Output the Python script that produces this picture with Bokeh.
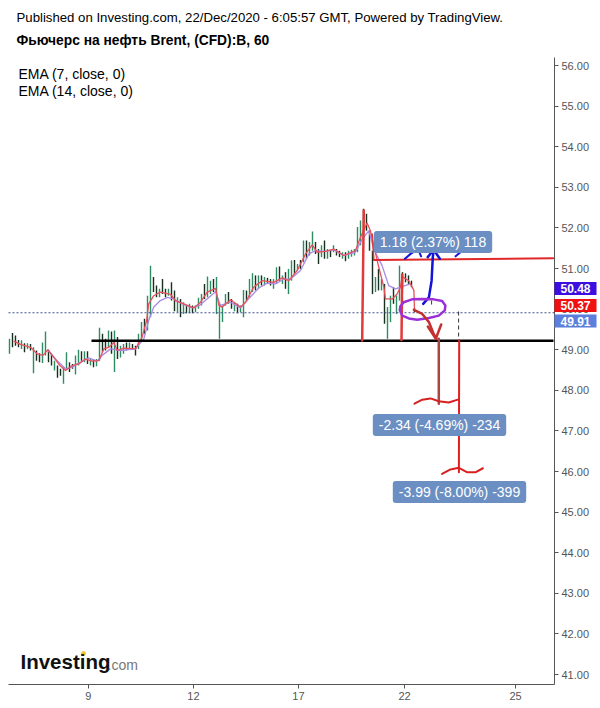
from bokeh.plotting import figure
from bokeh.models import Label, FixedTicker, Range1d
from bokeh.embed import file_html
from bokeh.resources import INLINE

# ---- data: hourly bars (bar number = position in list)
bar_high = [49.27,49.41,49.35,49.24,49.23,49.16,49.16,49.14,49.06,48.98,
            48.91,49.18,49.45,49.00,48.90,48.73,48.61,48.53,48.57,48.94,
            48.69,48.65,48.86,49.00,48.96,48.96,48.96,48.77,48.77,48.77,
            49.54,49.39,49.27,49.47,49.45,49.47,49.31,49.10,49.14,49.18,
            49.18,49.14,49.10,49.39,49.68,49.76,50.33,51.07,50.79,50.58,
            50.50,50.74,50.50,50.50,50.66,50.46,50.29,50.25,50.17,50.09,
            50.13,50.09,50.09,50.28,50.37,50.62,50.80,50.70,50.74,50.79,
            50.13,50.09,50.37,50.42,50.25,50.17,50.13,50.09,50.47,50.46,
            50.74,50.88,50.83,50.83,50.83,50.79,50.77,50.74,50.74,51.03,
            51.05,50.83,50.91,50.99,51.20,51.21,51.11,51.21,51.69,51.69,
            51.65,51.91,51.65,51.48,51.57,51.69,51.48,51.46,51.57,51.48,
            51.44,51.40,51.40,51.44,51.46,51.48,52.02,52.18,52.47,52.35,
            51.93,51.44,50.79,50.99,50.74,50.62,50.05,50.33,50.54,50.33,
            51.07,50.91,50.88,50.83,50.70,50.03]
bar_low = [48.90,49.06,49.10,49.06,49.02,48.94,49.02,48.98,48.42,48.73,
           48.69,48.67,48.86,48.69,48.61,48.49,48.31,48.36,48.16,48.53,
           48.45,48.53,48.39,48.61,48.73,48.69,48.65,48.61,48.57,48.59,
           48.73,48.94,48.98,49.06,48.90,48.45,48.77,48.81,48.90,48.98,
           49.02,49.00,48.86,49.02,49.23,49.39,49.47,49.80,50.42,50.29,
           50.29,50.37,50.29,50.33,50.21,49.95,49.92,49.80,49.88,49.90,
           49.90,49.90,49.92,50.01,50.09,50.25,50.29,50.37,50.42,49.88,
           49.27,49.68,50.09,50.13,50.01,49.95,49.90,49.92,49.80,50.21,
           50.29,50.42,50.46,50.50,50.58,50.58,50.62,50.58,50.50,50.62,
           50.70,50.62,50.50,50.37,50.70,50.87,50.95,50.99,51.15,51.24,
           51.32,51.44,51.36,51.11,51.28,51.24,51.24,51.28,51.40,51.32,
           51.28,51.24,51.18,51.24,51.29,51.32,51.40,51.57,51.77,51.93,
           51.44,50.37,50.42,50.46,50.46,49.64,49.27,49.68,50.13,49.88,
           50.21,50.50,50.66,50.62,50.54,49.92]
bar_up = [1,0,0,0,1,0,1,0,1,0, 0,1,1,0,0,1,0,0,1,1, 0,0,1,1,0,1,0,1,0,1,
          1,0,0,1,0,1,0,1,1,0, 1,0,0,1,1,0,1,1,0,0, 1,0,0,1,0,0,1,0,1,0,
          1,0,1,1,1,0,1,1,0,1, 1,1,1,0,0,1,0,1,1,0, 1,1,0,1,0,1,0,0,1,1,
          0,1,0,1,1,0,1,0,1,0, 1,1,0,0,1,0,1,0,1,0, 0,1,0,1,1,1,1,1,0,0,
          0,0,1,0,1,0,1,1,0,1, 1,0,0,0,0,0]

ema7_x = [1.4,3.7,7,9.2,11.2,12.8,14.8,16.8,18.7,20.9,23.1,25.3,27.6,29.8,31.4,33.1,34.8,35.9,38.1,42,
          44.2,45.7,46.4,48.1,50.3,53.7,55.3,58.1,61.4,63.7,65.9,68.7,69.8,70.9,73.7,77,78.7,81.4,84.2,
          88.1,90.9,93.1,95.9,98.7,100.9,102.6,105.3,108.1,111.4,115.3,117,119.2,120.3,121.4,123.1,124.8,
          125.3,127.6,129.2,130.3,130.9,133.1,134.8,135]
ema7_y = [49.21,49.13,49.06,48.90,48.86,49.00,48.81,48.61,48.49,48.61,48.65,48.77,48.72,48.73,49.02,49.06,49.18,48.98,49.04,49.02,
          49.31,49.72,50.13,50.33,50.42,50.36,50.21,50.13,50.03,50.17,50.42,50.51,50.09,50.05,50.23,50.05,50.17,50.54,50.70,
          50.66,50.77,50.70,50.95,51.36,51.58,51.40,51.42,51.48,51.32,51.44,51.77,52.12,51.93,51.57,51.03,50.54,
          50.25,50.25,50.37,50.54,50.80,50.70,50.46,49.96]
ema14_x = [12.6,15.3,18.7,20.9,23.1,26.4,29.2,30.9,33.7,37,42,44.8,46.4,48.1,50.3,52.6,54.8,57.6,60.9,63.3,68.7,70.3,
           73.7,77,79.2,83.1,85.9,88.7,91.4,93.7,97,99.8,102,105.3,108.1,111.4,115.3,117.6,119.8,121.4,124.2,126.4,128.7,130.3,133.7]
ema14_y = [49.00,48.77,48.53,48.57,48.67,48.80,48.72,48.86,49.02,48.98,49.02,49.27,49.72,50.05,50.21,50.29,50.25,50.13,50.03,50.09,50.43,50.09,
           50.17,50.03,50.21,50.52,50.64,50.62,50.74,50.74,50.95,51.36,51.44,51.42,51.46,51.32,51.40,51.73,51.93,51.48,51.07,50.58,50.50,50.54,50.62]

support_level = 49.22
last_level = 49.91
x_tick_pos = [26.3, 61.3, 96.3, 131.7, 168.7]
x_tick_labels = ["9", "12", "17", "22", "25"]
y_ticks = list(range(41, 57))

# hand-drawn strokes: (bars, prices, colour, width)
strokes = [
    ([117.56,118.1], [49.23,52.43], "#e23a3a", 2.5),
    ([130.67,130.9], [49.24,50.85], "#e23a3a", 2.5),
    ([120.9,121.45], [51.85,51.21], "#e23a3a", 1.5),
    ([121.45,181.2], [51.21,51.25], "#e02828", 2),
    ([143.1,143.1], [49.27,47.67], "#a84545", 2.5),
    ([149.9,149.8], [49.23,45.98], "#e01f1f", 2),
    ([137.9,139.8,140.7,141.1,141.4], [50.13,50.29,50.70,51.28,51.44], "#1414d8", 2.5),
    ([139.4,141.4,143.45], [51.28,51.46,51.24], "#1414d8", 2.5),
    ([131.8,133.7,135.3], [51.24,51.36,51.44], "#1414d8", 2),
    ([136.4,137.2], [51.44,51.30], "#1414d8", 2),
    ([148.7,150.9,153.1], [51.30,51.44,51.43], "#1414d8", 2),
    ([130.1,130.3,131.4,134.2,137.6,141.4,144.2,145.3,145.1,143.1,139.8,135.9,133.1,130.9,130.1],
     [49.97,50.07,50.17,50.24,50.25,50.24,50.20,50.09,49.97,49.84,49.78,49.74,49.77,49.84,49.97], "#9b30d8", 2.5),
    ([134.8,137.6,139.8,141.4,142.3], [49.98,49.88,49.68,49.39,49.27], "#c43030", 2.5),
    ([139.45,142.1,143.9], [49.57,49.27,49.62], "#c43030", 2.5),
    ([135,137.6,140.3,143.1,146.4,149.45], [47.67,47.77,47.80,47.73,47.70,47.77], "#d82020", 2),
    ([144.2,147,149.8,152.6,155.3,157.8], [45.94,46.05,46.09,45.98,45.98,46.08], "#d82020", 2),
]

change_labels = ["1.18 (2.37%) 118", "-2.34 (-4.69%) -234", "-3.99 (-8.00%) -399"]
price_tags = ["50.48", "50.37", "49.91"]
price_tag_colors = ["#3c0fe0", "#f01010", "#5b7fdc"]

# ---- layout helpers: page pixels to the chart's own scale
def dx(px): return (px - 9) / 3
def dy(py): return 56 - (py - 65) / 40.6

p = figure(width=600, height=708, output_backend="svg", toolbar_location=None,
           x_range=Range1d(dx(0), dx(600)), y_range=Range1d(dy(708), dy(0)),
           y_axis_location="right", min_border=0)
p.outline_line_color = None
p.grid.visible = False
FONT = "Liberation Sans"

for ax in (p.xaxis[0], p.yaxis[0]):
    ax.axis_line_color = "#555555"
    ax.major_tick_line_color = "#555555"
    ax.minor_tick_line_color = None
    ax.major_tick_out = 4
    ax.major_tick_in = 0
    ax.major_label_text_color = "#555555"
    ax.major_label_text_font = FONT
    ax.major_label_text_font_size = "11px"
    ax.major_label_standoff = 3
p.xaxis[0].ticker = FixedTicker(ticks=x_tick_pos)
p.xaxis[0].major_label_overrides = dict(zip(x_tick_pos, x_tick_labels))
p.xaxis[0].fixed_location = dy(684)
p.xaxis[0].bounds = (dx(8), dx(554))
p.yaxis[0].ticker = FixedTicker(ticks=y_ticks)
p.yaxis[0].major_label_overrides = {t: f"{t}.00" for t in y_ticks}
p.yaxis[0].fixed_location = dx(554)
p.yaxis[0].bounds = (dy(684), dy(57))

bar_x = list(range(len(bar_high)))
colors = ["#2e8b63" if u else "#17301f" for u in bar_up]
p.segment(bar_x, bar_low, bar_x, bar_high, line_color=colors, line_width=1.4)
p.line(ema14_x, ema14_y, line_color="#a98ae6", line_width=1.3)
p.line(ema7_x, ema7_y, line_color="#e8505a", line_width=1.3)
p.segment([dx(8)], [last_level], [dx(554)], [last_level], line_color="#3b4f8c",
          line_width=1, line_dash="2 2")
p.segment([dx(91)], [support_level], [dx(553)], [support_level], line_color="#000000", line_width=2.5)
p.segment([149.7, 140.7], [49.94, 50.21], [149.7, 140.7], [49.28, 50.05],
          line_color="#333333", line_width=1, line_dash="4 3")
for xs, ys, c, w in strokes:
    p.line(xs, ys, line_color=c, line_width=w, line_join="round", line_cap="round")

def label(text, px, py, size="13px", color="#000000", align="left", bold=False, bg=None, pad=0, radius=0):
    p.add_layout(Label(x=dx(px), y=dy(py), text=text, text_font=FONT, text_font_size=size,
                       text_color=color, text_align=align, text_baseline="middle",
                       text_font_style="bold" if bold else "normal",
                       background_fill_color=bg, padding=pad, border_radius=radius))

label("Published on Investing.com, 22/Dec/2020 - 6:05:57 GMT, Powered by TradingView.", 16, 17, size="13.2px")
label("Фьючерс на нефть Brent, (CFD):B, 60", 16, 40, size="13.8px", bold=True)
label("EMA (7, close, 0)", 18, 73, size="14px")
label("EMA (14, close, 0)", 18, 90, size="14px")

for text, cx, cy in zip(change_labels, [432.5, 439, 459], [241.5, 424.5, 491.5]):
    label(text, cx, cy, size="14px", color="#ffffff", align="center", bg="#6b8fc3", pad=(6, 3), radius=3)
for text, c, cy in zip(price_tags, price_tag_colors, [288, 305, 320.5]):
    label(text, 575, cy, size="12px", color="#ffffff", align="center", bold=True, bg=c, pad=(6, 2))

label("Investing", 20, 661, size="20.5px", bold=True, color="#111111")
label(".com", 107, 664, size="14px", color="#777777")
p.scatter([dx(83)], [dy(653)], size=4, color="#f0c830")

open("out.html", "w").write(file_html(p, INLINE))
